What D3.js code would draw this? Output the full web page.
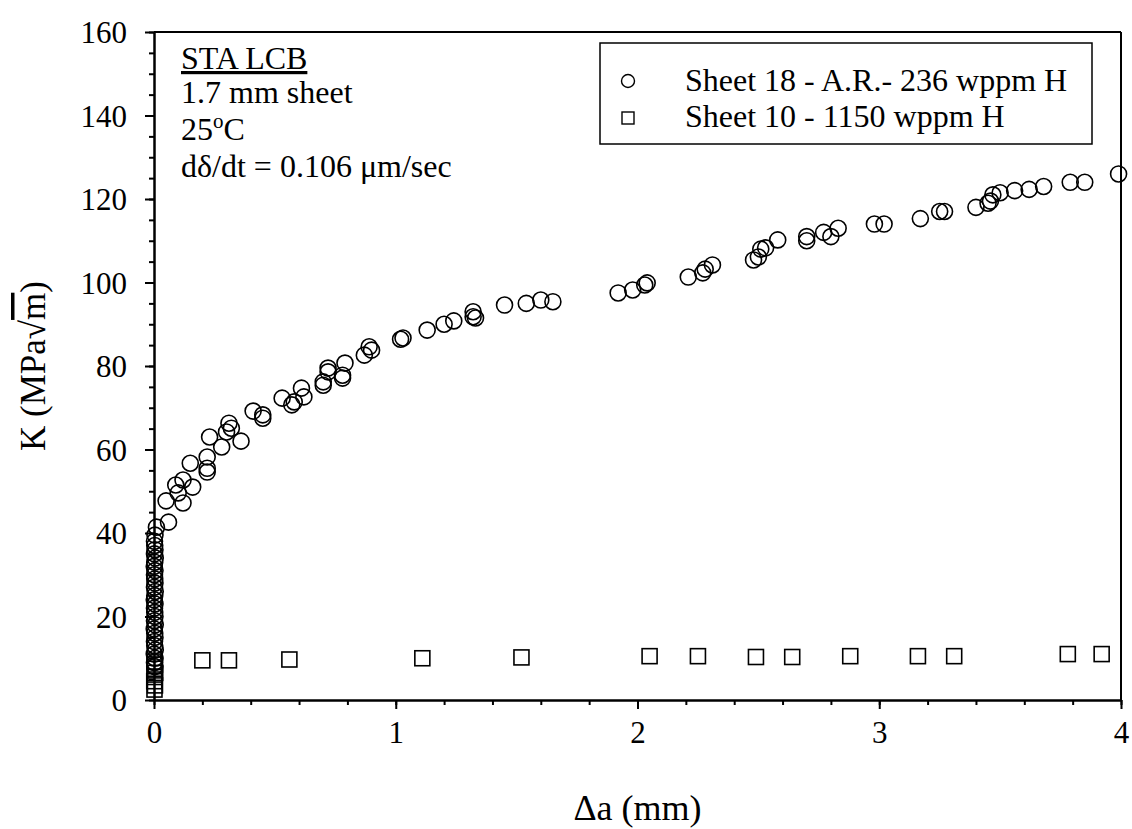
<!DOCTYPE html>
<html>
<head>
<meta charset="utf-8">
<script src="https://cdn.jsdelivr.net/npm/d3@7"></script>
<style>
  body { margin: 0; background: #fff; }
  text { font-family: "Liberation Serif", "Times New Roman", serif; fill: #000; }
</style>
</head>
<body>
<div id="chart"></div>
<script>
// Sheet 18 - A.R. - 236 wppm H (circles)
var s18Da = [0.003,0.002,0.004,0.001,0.005,0.003,0.002,0.004,0.003,0.001,0.005,0.002,0.004,0.003,0.002,0.004,0.001,0.003,0.005,0.002,0.004,0.003,0.002,0.004,0.001,0.003,0.005,0.002,0.004,0.003,0.002,
  0.004,0.01,0.06,0.05,0.09,0.12,0.1,0.12,0.16,0.15,0.22,0.22,0.22,0.23,0.28,0.31,0.32,0.30,0.36,0.41,0.45,0.45,
  0.53,0.57,0.58,0.61,0.62,0.70,0.72,0.72,0.70,0.78,0.78,0.79,0.87,0.89,0.90,1.02,1.03,1.13,1.20,1.24,1.32,1.32,1.33,
  1.45,1.54,1.60,1.65,1.92,1.98,2.03,2.04,2.21,2.27,2.28,2.31,2.48,2.50,2.51,2.53,2.58,
  2.70,2.70,2.77,2.80,2.83,2.98,3.02,3.17,3.25,3.27,3.40,3.45,3.46,3.47,3.50,3.56,3.62,3.68,3.79,3.85,3.99];
var s18K  = [8,9,10,11,12,13,14,15,16,17,18,19,20,21,22,23,24,25,26,27,28,29,30,31,32,33,34,35,36,37,38,
  39.5,41.4,42.6,47.7,51.5,52.7,49.6,47.2,51,56.7,55.5,54.6,58.2,63,60.6,66.3,65.1,64.2,62,69.2,68.3,67.5,
  72.3,70.7,71.4,74.7,72.6,76.2,79.5,78.6,75.4,77.8,77.1,80.7,82.6,84.6,83.8,86.4,86.7,88.6,90,90.8,93,91.8,91.5,
  94.6,95,95.8,95.4,97.5,98.2,99.4,99.9,101.3,102.3,103.2,104.2,105.4,106.1,108,108.3,110.2,
  110,111,112,111,113,114,114,115.3,117,117,118,119,119.5,121,121.5,122,122.3,123,124,124,126];

// Sheet 10 - 1150 wppm H (squares)
var s10Da = [0.002,0.004,0.001,0.003,0.005,0.002,0.004,0.003,
  0.20,0.31,0.56,1.11,1.52,2.05,2.25,2.49,2.64,2.88,3.16,3.31,3.78,3.92];
var s10K  = [2.5,3.5,4.5,5.5,6.5,7.5,8.5,9.2,
  9.5,9.5,9.7,10,10.2,10.5,10.5,10.3,10.3,10.5,10.5,10.5,11,11];

var xMajor = [0,1,2,3,4];
var yMajor = [0,20,40,60,80,100,120,140,160];
var legendLabels = ["Sheet 18 - A.R.- 236 wppm H", "Sheet 10 - 1150 wppm H"];

var W = 1132, H = 829;
var pLeft = 154, pRight = 1121, pTop = 32, pBottom = 700;

var svg = d3.select("#chart").append("svg")
    .attr("width", W).attr("height", H);

var x = d3.scaleLinear().domain([0, 4]).range([pLeft, pRight]);
var y = d3.scaleLinear().domain([0, 160]).range([pBottom, pTop]);

// minor ticks
svg.append("g")
    .attr("transform", "translate(0," + pBottom + ")")
    .call(d3.axisBottom(x).tickValues(d3.range(0, 4.001, 0.2)).tickSize(5).tickFormat(""))
    .call(function(g){ g.select(".domain").remove(); });
svg.append("g")
    .attr("transform", "translate(" + pLeft + ",0)")
    .call(d3.axisLeft(y).tickValues(d3.range(0, 160.1, 5)).tickSize(5).tickFormat(""))
    .call(function(g){ g.select(".domain").remove(); });

// major axes
var xAxis = svg.append("g")
    .attr("transform", "translate(0," + pBottom + ")")
    .call(d3.axisBottom(x).tickValues(xMajor).tickSize(9).tickSizeOuter(0).tickPadding(12).tickFormat(d3.format("d")));
var yAxis = svg.append("g")
    .attr("transform", "translate(" + pLeft + ",0)")
    .call(d3.axisLeft(y).tickValues(yMajor).tickSize(9).tickSizeOuter(0).tickPadding(18).tickFormat(d3.format("d")));

svg.selectAll(".tick line").attr("stroke", "#000").attr("stroke-width", 2);
svg.selectAll(".domain").attr("stroke", "#000").attr("stroke-width", 2.5);
svg.selectAll(".tick text").style("font-family", "Liberation Serif").style("font-size", "31px").attr("fill", "#000");
yAxis.selectAll(".tick text").attr("dy", "0.34em");
xAxis.selectAll(".tick text").attr("dy", "0.71em");

// frame top/right
svg.append("line").attr("x1", pLeft).attr("x2", pRight).attr("y1", pTop).attr("y2", pTop)
    .attr("stroke", "#000").attr("stroke-width", 2);
svg.append("line").attr("x1", pRight).attr("x2", pRight).attr("y1", pTop).attr("y2", pBottom)
    .attr("stroke", "#000").attr("stroke-width", 2);

// squares
svg.append("g").selectAll("rect")
    .data(s10Da.map(function(d, i){ return [d, s10K[i]]; }))
    .enter().append("rect")
    .attr("x", function(d){ return x(d[0]) - 7.5; })
    .attr("y", function(d){ return y(d[1]) - 7.5; })
    .attr("width", 15).attr("height", 15)
    .attr("fill", "none").attr("stroke", "#000").attr("stroke-width", 1.6);

// circles
svg.append("g").selectAll("circle")
    .data(s18Da.map(function(d, i){ return [d, s18K[i]]; }))
    .enter().append("circle")
    .attr("cx", function(d){ return x(d[0]); })
    .attr("cy", function(d){ return y(d[1]); })
    .attr("r", 8)
    .attr("fill", "none").attr("stroke", "#000").attr("stroke-width", 1.6);

// annotation
var note = svg.append("g").style("font-size", "32px");
note.append("text").attr("x", 181).attr("y", 69).style("text-decoration", "underline").text("STA LCB");
note.append("text").attr("x", 181).attr("y", 103).text("1.7 mm sheet");
var t3 = note.append("text").attr("x", 181).attr("y", 140);
t3.append("tspan").text("25");
t3.append("tspan").attr("dy", -12).style("font-size", "21px").text("o");
t3.append("tspan").attr("dy", 12).text("C");
note.append("text").attr("x", 181).attr("y", 177).text("d\u03b4/dt = 0.106 \u03bcm/sec");

// legend
var lg = svg.append("g");
lg.append("rect").attr("x", 600).attr("y", 43).attr("width", 492).attr("height", 101)
    .attr("fill", "#fff").attr("stroke", "#000").attr("stroke-width", 1.5);
lg.append("circle").attr("cx", 628).attr("cy", 81).attr("r", 6.5)
    .attr("fill", "none").attr("stroke", "#000").attr("stroke-width", 1.4);
lg.append("rect").attr("x", 622).attr("y", 112).attr("width", 12).attr("height", 12)
    .attr("fill", "none").attr("stroke", "#000").attr("stroke-width", 1.4);
lg.selectAll("text").data(legendLabels).enter().append("text")
    .attr("x", 685).attr("y", function(d, i){ return 91 + i * 36; })
    .style("font-size", "32px").text(function(d){ return d; });

// axis titles
svg.append("text").attr("x", (pLeft + pRight) / 2).attr("y", 820)
    .attr("text-anchor", "middle").style("font-size", "36px").text("\u0394a (mm)");
var yt = svg.append("text").attr("transform", "translate(45," + (pTop + pBottom) / 2 + ") rotate(-90)")
    .attr("text-anchor", "middle").style("font-size", "35px");
yt.append("tspan").text("K (MPa\u221a");
yt.append("tspan").style("text-decoration", "overline").text("m");
yt.append("tspan").text(")");
</script>
</body>
</html>
